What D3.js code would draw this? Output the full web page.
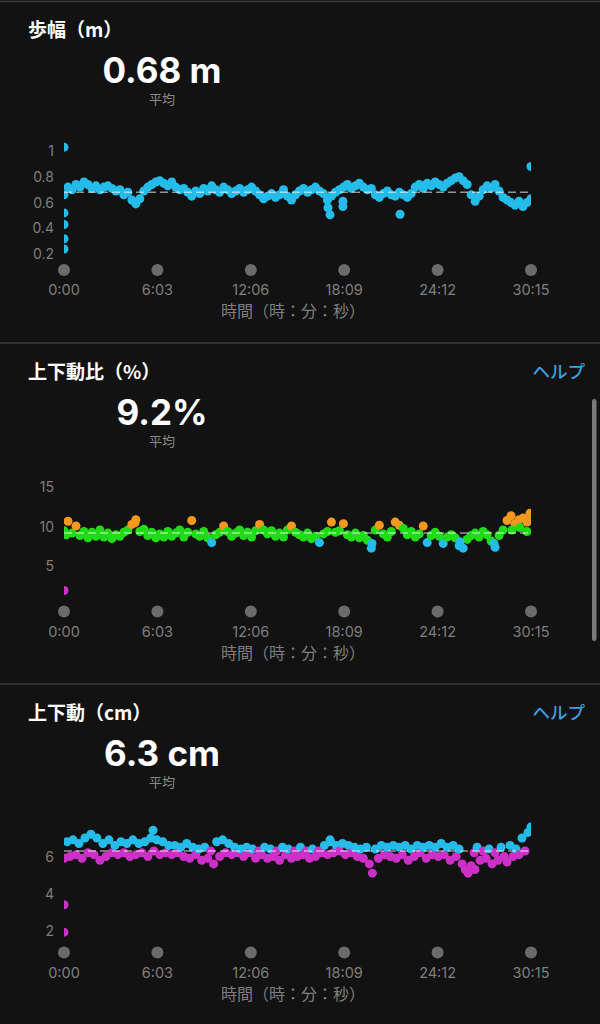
<!DOCTYPE html>
<html><head><meta charset="utf-8">
<script src="https://cdn.jsdelivr.net/npm/d3@7"></script>
<style>
html,body{margin:0;padding:0;background:#121212;}
svg{display:block;}
</style></head><body>
<svg id="c" width="600" height="1024"></svg>
<script>
// ---------- data ----------
const totalSec = 1815;
const xTickValues = [0, 363, 726, 1089, 1452, 1815];
const xTickLabels = ["0:00", "6:03", "12:06", "18:09", "24:12", "30:15"];
const xAxisTitle = "時間（時：分：秒）";
const avgLabel = "平均";
const helpLabel = "ヘルプ";

const panelTitles = ["歩幅（m）", "上下動比（%）", "上下動（cm）"];
const panelAverages = [0.68, 9.2, 6.3];
const averageTexts = ["0.68 m", "9.2%", "6.3 cm"];

// 歩幅 (m)
const strideTicks = [0.2, 0.4, 0.6, 0.8, 1];
const strideTickLabels = ["0.2", "0.4", "0.6", "0.8", "1"];
const strideValues = [
  0.66,0.72,0.70,0.74,0.72,0.76,0.74,0.71,0.73,0.70,
  0.72,0.73,0.71,0.69,0.70,0.66,0.68,0.62,0.59,0.63,
  0.69,0.72,0.74,0.76,0.77,0.75,0.73,0.76,0.72,0.70,
  0.71,0.68,0.65,0.69,0.67,0.71,0.69,0.73,0.70,0.68,
  0.72,0.70,0.67,0.69,0.71,0.68,0.70,0.72,0.69,0.66,
  0.63,0.65,0.67,0.64,0.66,0.70,0.65,0.62,0.66,0.69,
  0.71,0.68,0.70,0.72,0.69,0.67,0.62,0.65,0.68,0.70,
  0.72,0.74,0.71,0.73,0.75,0.72,0.70,0.71,0.66,0.64,
  0.67,0.69,0.66,0.65,0.68,0.66,0.64,0.67,0.72,0.74,
  0.71,0.75,0.73,0.76,0.74,0.72,0.75,0.77,0.79,0.80,
  0.77,0.74,0.66,0.61,0.65,0.70,0.73,0.71,0.74,0.69,
  0.64,0.62,0.60,0.58,0.61,0.57,0.60,0.63
];
const strideExtras = [
  [0,1.03],[0,0.52],[0,0.43],[0,0.32],[0,0.24],
  [1026,0.56],[1034,0.505],[1084,0.57],[1084,0.61],[1306,0.51],[1815,0.88]
];

// 上下動比 (%)
const ratioTicks = [5, 10, 15];
const ratioTickLabels = ["5", "10", "15"];
const ratioValues = [
  9.5,10.7,9.2,10.1,8.9,9.4,8.6,9.3,8.8,9.6,
  8.7,9.2,8.5,9.0,8.8,9.3,9.6,10.3,10.9,9.4,
  9.7,8.9,9.3,8.6,9.1,8.7,9.4,8.8,9.2,9.6,
  8.7,9.3,10.8,9.1,8.8,9.4,8.6,8.0,9.0,9.3,
  10.1,9.4,8.8,9.2,9.6,8.9,9.3,8.7,9.5,10.3,
  9.6,9.1,9.5,8.8,9.2,8.7,9.6,10.1,9.3,9.0,
  8.7,9.2,8.5,8.8,8.0,9.1,9.4,10.6,9.3,9.5,
  10.4,9.0,8.7,9.2,8.6,8.9,8.3,7.3,9.6,10.2,
  9.1,8.7,9.4,10.6,10.2,9.8,9.0,9.4,8.7,9.1,
  10.1,8.0,8.9,9.3,8.8,7.9,8.7,9.0,8.6,7.6,
  7.3,8.4,8.9,9.2,8.7,9.4,9.0,8.2,7.4,8.9,
  9.6,10.8,11.4,10.4,10.9,11.1,10.6,11.5
];
const ratioExtras = [
  [0,1.94],[8,9.0],[276,10.5],[1197,7.9],[1539,8.1],[1671,7.9],
  [1741,9.6],[1772,9.9],[1799,9.4],[1811,11.7]
];
const ratioThresholds = [6, 8.2, 10.05];

// 上下動 (cm)
const oscTicks = [2, 4, 6];
const oscTickLabels = ["2", "4", "6"];
const oscValues = [
  5.9,6.8,6.0,6.9,6.1,6.7,5.9,7.0,6.2,7.2,
  6.1,7.0,5.8,6.7,6.0,6.9,6.2,6.6,6.1,6.8,
  6.2,6.7,6.0,6.9,6.1,6.7,6.2,6.8,6.0,7.0,
  6.3,6.9,6.1,6.8,6.2,6.6,6.1,6.6,6.2,6.5,
  6.0,6.7,5.9,6.5,6.1,6.4,5.8,6.5,5.9,6.3,
  5.6,6.8,6.0,6.9,6.2,6.7,6.1,6.5,6.2,6.4,
  6.0,6.5,6.2,6.4,5.9,6.3,6.1,6.5,5.9,6.4,
  6.0,6.3,5.8,6.5,6.1,6.4,5.9,6.3,6.0,6.5,
  6.1,6.3,5.9,6.4,6.0,6.3,6.2,6.6,6.1,6.8,
  6.2,6.6,6.3,6.7,6.1,6.6,6.2,6.5,6.0,6.4,
  5.9,6.5,5.6,5.1,6.4,5.9,6.6,6.1,6.5,6.0,
  6.6,5.9,6.5,6.1,6.6,5.8,6.4,6.0,6.6,6.2,
  6.5,5.9,6.6,6.1,6.5,6.0,6.7,6.1,6.5,5.8,
  6.6,6.0,6.4,5.6,5.3,5.1,5.5,6.2,6.5,5.8,
  6.3,5.9,6.4,5.6,6.2,5.8,6.5,6.0,5.7,6.6,
  6.0,6.4,6.1,7.0,6.3,7.3,7.6
];
const oscExtras = [[0,3.39],[0,1.91],[346,7.42],[1034,6.9],[1597,5.3]];
const oscThresholds = [6.35];

// ---------- styling / layout ----------
const BLUE = "#25bcea", GREEN = "#20dc18", ORANGE = "#f5981f", MAGENTA = "#cc30c6";
const GREY_TXT = "#7e7e7e";
const LATIN = "Inter, 'Noto Sans CJK JP', sans-serif";
const CJK = "'Noto Sans CJK JP', sans-serif";
const plotLeft = 64, plotRight = 531;

const panels = [
  { top: 0, values: strideValues, extras: strideExtras, ticks: strideTicks, tickLabels: strideTickLabels,
    domain: [0.2, 1], range: [254.2, 151], color: () => BLUE, help: false },
  { top: 341.5, values: ratioValues, extras: ratioExtras, ticks: ratioTicks, tickLabels: ratioTickLabels,
    domain: [5, 15], range: [224.8, 145.8],
    color: d3.scaleThreshold().domain(ratioThresholds).range([MAGENTA, BLUE, GREEN, ORANGE]), help: true },
  { top: 682.5, values: oscValues, extras: oscExtras, ticks: oscTicks, tickLabels: oscTickLabels,
    domain: [2, 6], range: [248, 174],
    color: d3.scaleThreshold().domain(oscThresholds).range([MAGENTA, BLUE]), help: true }
];

const svg = d3.select("#c");
svg.append("rect").attr("width", 600).attr("height", 1024).attr("fill", "#121212");

const x = d3.scaleLinear().domain([0, totalSec]).range([plotLeft, plotRight]);

panels.forEach((p, pi) => {
  const g = svg.append("g").attr("transform", `translate(0,${p.top})`);
  const y = d3.scaleLinear().domain(p.domain).range(p.range);

  g.append("line").attr("x1", 0).attr("x2", 600).attr("y1", 1.5).attr("y2", 1.5)
    .attr("stroke", "#3c3c3c").attr("stroke-width", 1.5);

  g.append("text").attr("x", 28).attr("y", 37).text(panelTitles[pi])
    .attr("fill", "#fff").attr("font-family", CJK).attr("font-weight", 700).attr("font-size", 19);
  if (p.help) {
    g.append("text").attr("x", 585).attr("y", 36).attr("text-anchor", "end").text(helpLabel)
      .attr("fill", "#3d9fe0").attr("font-family", CJK).attr("font-weight", 500).attr("font-size", 17.5);
  }
  g.append("text").attr("x", 162).attr("y", 83).attr("text-anchor", "middle").text(averageTexts[pi])
    .attr("fill", "#fff").attr("font-family", LATIN).attr("font-weight", 700).attr("font-size", 35);
  g.append("text").attr("x", 162).attr("y", 104).attr("text-anchor", "middle").text(avgLabel)
    .attr("fill", "#8a8a8a").attr("font-family", CJK).attr("font-size", 13);

  g.selectAll("text.yt").data(p.ticks).enter().append("text").attr("class", "yt")
    .attr("x", 54).attr("y", d => y(d)).attr("dy", "0.36em").attr("text-anchor", "end")
    .text((d, i) => p.tickLabels[i])
    .attr("fill", GREY_TXT).attr("font-family", LATIN).attr("font-size", 14);

  const clipId = "clip" + pi;
  g.append("clipPath").attr("id", clipId).append("rect")
    .attr("x", plotLeft).attr("y", 0).attr("width", plotRight - plotLeft).attr("height", 340);
  const pts = p.values.map((v, i) => [i * totalSec / (p.values.length - 1), v]).concat(p.extras);
  g.append("g").attr("clip-path", `url(#${clipId})`)
    .selectAll("circle").data(pts).enter().append("circle")
    .attr("cx", d => x(d[0])).attr("cy", d => y(d[1])).attr("r", 4.5)
    .attr("fill", d => p.color(d[1]));

  g.append("line").attr("x1", plotLeft).attr("x2", plotRight)
    .attr("y1", y(panelAverages[pi])).attr("y2", y(panelAverages[pi]))
    .attr("stroke", "#ffffff").attr("stroke-opacity", 0.55).attr("stroke-width", 1.5)
    .attr("stroke-dasharray", "8,4");

  g.selectAll("circle.xd").data(xTickValues).enter().append("circle").attr("class", "xd")
    .attr("cx", d => x(d)).attr("cy", 270).attr("r", 6).attr("fill", "#6b6b6b");
  g.selectAll("text.xt").data(xTickValues).enter().append("text").attr("class", "xt")
    .attr("x", d => x(d)).attr("y", 295).attr("text-anchor", "middle")
    .text((d, i) => xTickLabels[i])
    .attr("fill", GREY_TXT).attr("font-family", LATIN).attr("font-size", 14.5);
  g.append("text").attr("x", 293).attr("y", 317).attr("text-anchor", "middle").text(xAxisTitle)
    .attr("fill", GREY_TXT).attr("font-family", CJK).attr("font-size", 16);
});

svg.append("rect").attr("x", 592).attr("y", 399).attr("width", 4.5).attr("height", 242)
  .attr("rx", 2.2).attr("fill", "#7a7a7a");
</script>
</body></html>
